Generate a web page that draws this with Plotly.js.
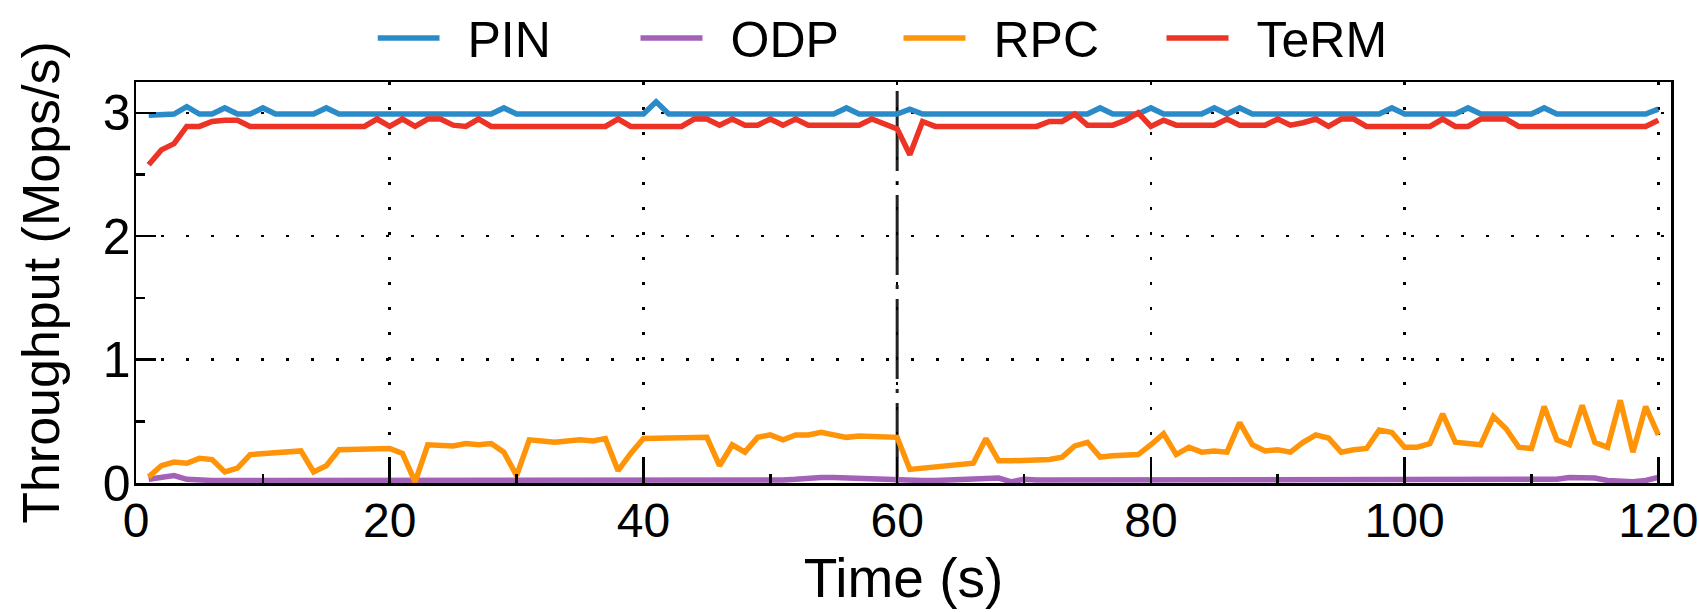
<!DOCTYPE html>
<html>
<head>
<meta charset="utf-8">
<script src="https://cdn.plot.ly/plotly-3.0.1.min.js"></script>
<style>html,body{margin:0;padding:0;background:#fff;}#chart{width:1699px;height:612px;}</style>
</head>
<body>
<div id="chart"></div>
<script>
// time in seconds
const timeSec = Array.from({length: 120}, (_, i) => i + 1);

const seriesNames = ["PIN", "ODP", "RPC", "TeRM"];

const pinMops = [
  2.98, 2.98, 2.99, 3.05, 2.99, 2.99, 3.04, 2.99, 2.99, 3.04,
  2.99, 2.99, 2.99, 2.99, 3.04, 2.99, 2.99, 2.99, 2.99, 2.99,
  2.99, 2.99, 2.99, 2.99, 2.99, 2.99, 2.99, 2.99, 3.04, 2.99,
  2.99, 2.99, 2.99, 2.99, 2.99, 2.99, 2.99, 2.99, 2.99, 2.99,
  3.09, 2.99, 2.99, 2.99, 2.99, 2.99, 2.99, 2.99, 2.99, 2.99,
  2.99, 2.99, 2.99, 2.99, 2.99, 3.04, 2.99, 2.99, 2.99, 2.99,
  3.03, 2.99, 2.99, 2.99, 2.99, 2.99, 2.99, 2.99, 2.99, 2.99,
  2.99, 2.99, 2.99, 2.99, 2.99, 3.04, 2.99, 2.99, 2.99, 3.04,
  2.99, 2.99, 2.99, 2.99, 3.04, 2.99, 3.04, 2.99, 2.99, 2.99,
  2.99, 2.99, 2.99, 2.99, 2.99, 2.99, 2.99, 2.99, 3.04, 2.99,
  2.99, 2.99, 2.99, 2.99, 3.04, 2.99, 2.99, 2.99, 2.99, 2.99,
  3.04, 2.99, 2.99, 2.99, 2.99, 2.99, 2.99, 2.99, 2.99, 3.03
];

const odpMops = [
  0.03, 0.05, 0.06, 0.03, 0.02, 0.02, 0.02, 0.02, 0.02, 0.02,
  0.02, 0.02, 0.015, 0.02, 0.025, 0.02, 0.015, 0.02, 0.02, 0.025,
  0.025, 0.02, 0.02, 0.02, 0.02, 0.02, 0.025, 0.02, 0.025, 0.02,
  0.02, 0.02, 0.025, 0.02, 0.02, 0.02, 0.02, 0.02, 0.02, 0.02,
  0.025, 0.02, 0.02, 0.025, 0.02, 0.02, 0.02, 0.02, 0.025, 0.02,
  0.025, 0.03, 0.04, 0.045, 0.045, 0.04, 0.04, 0.03, 0.025, 0.025,
  0.02, 0.02, 0.02, 0.025, 0.03, 0.04, 0.045, 0.04, 0.01, 0.03,
  0.025, 0.025, 0.02, 0.025, 0.025, 0.03, 0.025, 0.02, 0.025, 0.025,
  0.03, 0.025, 0.02, 0.02, 0.02, 0.02, 0.02, 0.025, 0.025, 0.03,
  0.025, 0.025, 0.03, 0.03, 0.025, 0.025, 0.025, 0.025, 0.03, 0.025,
  0.025, 0.025, 0.025, 0.025, 0.025, 0.02, 0.02, 0.02, 0.02, 0.025,
  0.03, 0.03, 0.045, 0.045, 0.04, 0.02, 0.01, 0.01, 0.02, 0.045
];

const rpcMops = [
  0.05, 0.14, 0.17, 0.16, 0.20, 0.19, 0.09, 0.12, 0.23, 0.24,
  0.24, 0.25, 0.26, 0.09, 0.14, 0.27, 0.27, 0.27, 0.27, 0.28,
  0.24, 0.01, 0.31, 0.30, 0.30, 0.32, 0.31, 0.32, 0.25, 0.06,
  0.35, 0.34, 0.33, 0.34, 0.35, 0.34, 0.36, 0.10, 0.24, 0.36,
  0.36, 0.37, 0.37, 0.37, 0.37, 0.14, 0.31, 0.25, 0.37, 0.39,
  0.35, 0.39, 0.39, 0.41, 0.39, 0.37, 0.38, 0.38, 0.37, 0.37,
  0.11, 0.12, 0.14, 0.14, 0.16, 0.16, 0.36, 0.18, 0.18, 0.18,
  0.18, 0.19, 0.21, 0.30, 0.33, 0.21, 0.22, 0.22, 0.23, 0.31,
  0.40, 0.23, 0.29, 0.25, 0.26, 0.25, 0.49, 0.31, 0.26, 0.27,
  0.25, 0.33, 0.39, 0.365, 0.25, 0.27, 0.28, 0.43, 0.41, 0.29,
  0.29, 0.32, 0.56, 0.33, 0.32, 0.31, 0.54, 0.44, 0.29, 0.28,
  0.62, 0.35, 0.31, 0.63, 0.33, 0.29, 0.67, 0.25, 0.62, 0.39
];

const termMops = [
  2.58, 2.70, 2.75, 2.89, 2.89, 2.93, 2.94, 2.94, 2.89, 2.89,
  2.89, 2.89, 2.89, 2.89, 2.89, 2.89, 2.89, 2.89, 2.95, 2.89,
  2.95, 2.89, 2.95, 2.95, 2.90, 2.89, 2.95, 2.89, 2.89, 2.89,
  2.89, 2.89, 2.89, 2.89, 2.89, 2.89, 2.89, 2.95, 2.89, 2.89,
  2.89, 2.89, 2.89, 2.95, 2.95, 2.90, 2.95, 2.90, 2.90, 2.95,
  2.90, 2.95, 2.90, 2.90, 2.90, 2.90, 2.90, 2.95, 2.91, 2.87,
  2.66, 2.93, 2.89, 2.89, 2.89, 2.89, 2.89, 2.89, 2.89, 2.89,
  2.89, 2.93, 2.93, 2.99, 2.90, 2.90, 2.90, 2.94, 3.00, 2.89,
  2.94, 2.90, 2.90, 2.90, 2.90, 2.95, 2.90, 2.90, 2.90, 2.95,
  2.90, 2.92, 2.95, 2.89, 2.95, 2.95, 2.89, 2.89, 2.89, 2.89,
  2.89, 2.89, 2.95, 2.89, 2.89, 2.95, 2.95, 2.95, 2.89, 2.89,
  2.89, 2.89, 2.89, 2.89, 2.89, 2.89, 2.89, 2.89, 2.89, 2.94
];

const xTickVals = [0, 20, 40, 60, 80, 100, 120];
const yTickVals = [0, 1, 2, 3];
const eventTime = [60];

const colors = ["#2b8bc9", "#a461b8", "#ff9408", "#ec3325"];
const FONT = "Liberation Sans, Arial, Helvetica, sans-serif";

const ys = [pinMops, odpMops, rpcMops, termMops];
const traces = seriesNames.map((n, i) => ({
  type: "scatter", mode: "lines", name: n,
  x: timeSec, y: ys[i],
  line: {color: colors[i], width: 5.5}
}));

const axisCommon = {
  showline: true, linecolor: "#000", linewidth: 2.5, mirror: true,
  ticks: "inside", tickcolor: "#000", tickwidth: 2.5,
  showgrid: true, gridcolor: "#000", gridwidth: 2.5, griddash: "3px,22px",
  zeroline: false, ticklabeloverflow: "allow", automargin: false
};

const layout = {
  width: 1699, height: 612,
  margin: {l: 136, r: 28, t: 82, b: 129, autoexpand: false},
  paper_bgcolor: "#fff", plot_bgcolor: "#fff",
  font: {family: FONT, color: "#000"},
  showlegend: true,
  legend: {
    orientation: "h", x: 0.5, xanchor: "center", y: 1.11, yanchor: "middle",
    font: {family: FONT, size: 50, color: "#000"},
    bgcolor: "rgba(0,0,0,0)", itemwidth: 80, entrywidth: 168, tracegroupgap: 0
  },
  xaxis: Object.assign({}, axisCommon, {
    range: [0, 121], tickvals: xTickVals, ticklen: 24,
    tickfont: {family: FONT, size: 48, color: "#000"}, ticklabelstandoff: -6,
    minor: {dtick: 10, tick0: 0, ticks: "inside", ticklen: 9, tickwidth: 2.5, tickcolor: "#000", showgrid: false},
    title: {text: "Time (s)", font: {family: FONT, size: 55, color: "#000"}, standoff: 2}
  }),
  yaxis: Object.assign({}, axisCommon, {
    range: [0, 3.25], tickvals: yTickVals, ticklen: 20,
    tickfont: {family: FONT, size: 50, color: "#000"}, ticklabelstandoff: -7,
    minor: {dtick: 0.5, tick0: 0, ticks: "inside", ticklen: 9, tickwidth: 2.5, tickcolor: "#000", showgrid: false},
    title: {text: "Throughput (Mops/s)", font: {family: FONT, size: 52, color: "#000"}, standoff: 27}
  }),
  shapes: eventTime.map(t => ({
    type: "line", xref: "x", yref: "paper", x0: t, x1: t, y0: 0, y1: 1,
    line: {color: "#222", width: 3, dash: "80px,10px,4px,10px"}, layer: "below"
  }))
};

Plotly.newPlot("chart", traces, layout, {displayModeBar: false, staticPlot: true}).then(() => {
  document.querySelectorAll(".legendlines path").forEach(p => p.setAttribute("d", "M0,0h62"));
});
</script>
</body>
</html>
